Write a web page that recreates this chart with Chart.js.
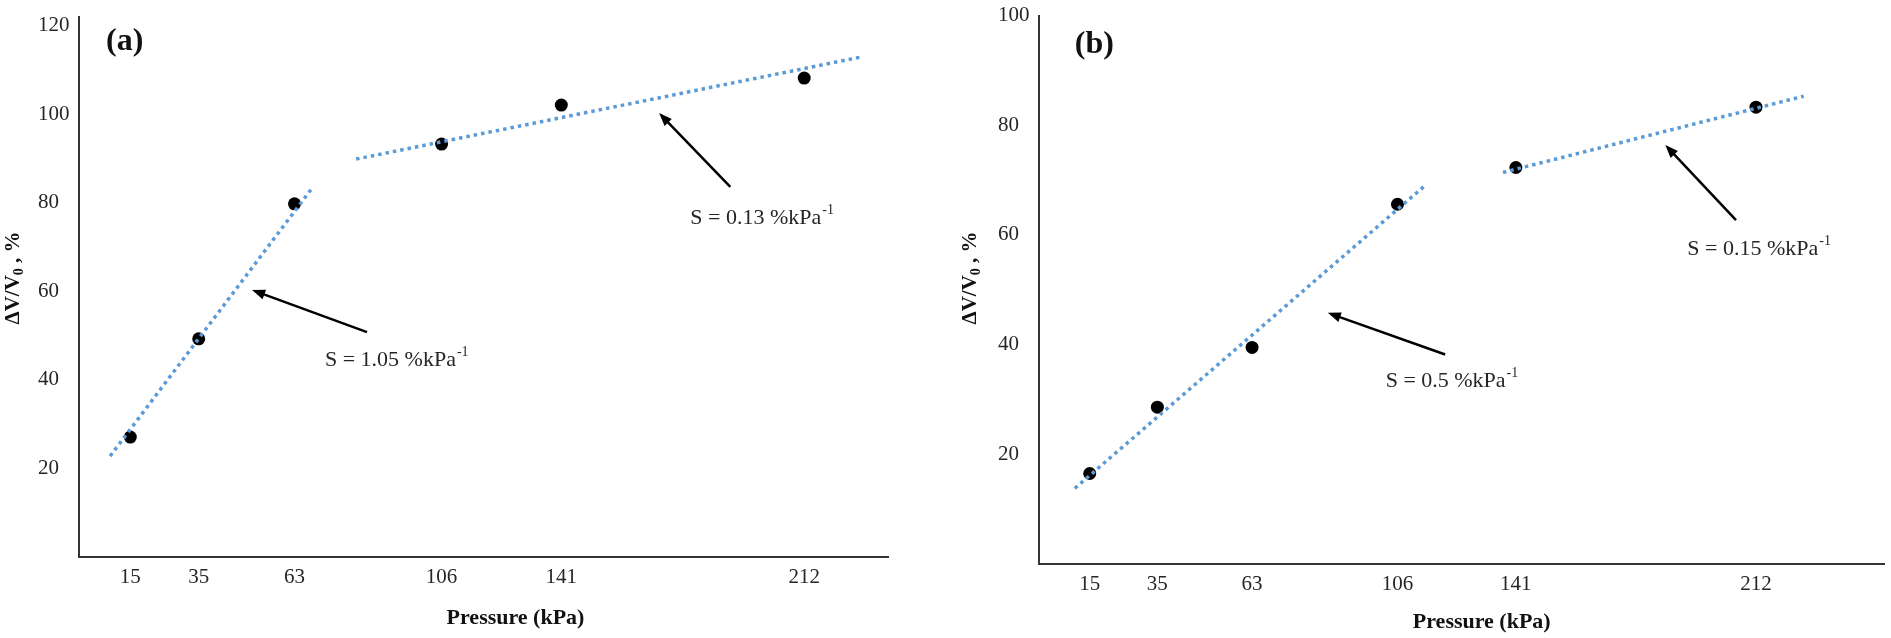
<!DOCTYPE html>
<html>
<head>
<meta charset="utf-8">
<script src="https://cdn.jsdelivr.net/npm/chart.js@4.4.0/dist/chart.umd.min.js"></script>
<style>
  html, body { margin: 0; padding: 0; background: #fff; }
  #wrap { position: relative; width: 1891px; height: 638px; }
  .box { position: absolute; top: 0; height: 638px; }
</style>
</head>
<body>
<div id="wrap">
  <div class="box" style="left:0;width:945px"><canvas id="chartA"></canvas></div>
  <div class="box" style="left:945px;width:946px"><canvas id="chartB"></canvas></div>
</div>
<script>
const pressure = [15, 35, 63, 106, 141, 212];
const volumeA = [27.1, 49.3, 79.8, 93.3, 102.1, 108.2];
const volumeB = [16.5, 28.6, 39.5, 65.6, 72.3, 83.3];
const yTicksA = [20, 40, 60, 80, 100, 120];
const yTicksB = [20, 40, 60, 80, 100];

// dotted fit lines: [x0, y0, x1, y1]
const fitA1 = [9.1, 22.8, 68.4, 83.6];
const fitA2 = [81.0, 89.9, 228.9, 113.0];
const fitB1 = [10.6, 13.8, 114.5, 69.2];
const fitB2 = [137.2, 71.4, 226.1, 85.3];

// arrows: tail -> head, in data units
const arrowsA = [[84.2, 50.8, 50.6, 60.3], [190.4, 83.6, 169.6, 100.3]];
const arrowsB = [[120.1, 38.2, 85.4, 45.8], [206.1, 62.7, 185.2, 76.4]];

// slope labels: [x, y, text]
const notesA = [[71.9, 44.5, 'S = 1.05 %kPa'], [178.7, 76.6, 'S = 0.13 %kPa']];
const notesB = [[102.5, 33.3, 'S = 0.5 %kPa'], [191.7, 57.4, 'S = 0.15 %kPa']];

const SERIF = "'Liberation Serif', 'Times New Roman', serif";
const INK = '#262626';
const BLUE = '#5b9bd5';

function fitLine(f) {
  return {
    type: 'line',
    data: [{ x: f[0], y: f[1] }, { x: f[2], y: f[3] }],
    borderColor: BLUE,
    borderWidth: 3.5,
    borderDash: [3.5, 4],
    borderCapStyle: 'butt',
    pointRadius: 0,
    fill: false,
    order: 0
  };
}

function drawArrow(ctx, x0, y0, x1, y1) {
  const ang = Math.atan2(y1 - y0, x1 - x0);
  const len = 13, half = 5;
  ctx.strokeStyle = '#000';
  ctx.fillStyle = '#000';
  ctx.lineWidth = 2.5;
  ctx.beginPath();
  ctx.moveTo(x0, y0);
  ctx.lineTo(x1 - Math.cos(ang) * len * 0.8, y1 - Math.sin(ang) * len * 0.8);
  ctx.stroke();
  ctx.beginPath();
  ctx.moveTo(x1, y1);
  ctx.lineTo(x1 - Math.cos(ang) * len + Math.sin(ang) * half, y1 - Math.sin(ang) * len - Math.cos(ang) * half);
  ctx.lineTo(x1 - Math.cos(ang) * len - Math.sin(ang) * half, y1 - Math.sin(ang) * len + Math.cos(ang) * half);
  ctx.closePath();
  ctx.fill();
}

const extras = {
  id: 'extras',
  afterDatasetsDraw(chart) {
    const o = chart.options.plugins.extras;
    const { ctx, chartArea } = chart;
    const xs = chart.scales.x, ys = chart.scales.y;
    ctx.save();

    o.arrows.forEach(a => {
      drawArrow(ctx, xs.getPixelForValue(a[0]), ys.getPixelForValue(a[1]),
                xs.getPixelForValue(a[2]), ys.getPixelForValue(a[3]));
    });

    // slope labels with superscript -1
    ctx.fillStyle = INK;
    ctx.textBaseline = 'middle';
    ctx.textAlign = 'left';
    o.notes.forEach(n => {
      const x = xs.getPixelForValue(n[0]), y = ys.getPixelForValue(n[1]);
      ctx.font = '22px ' + SERIF;
      ctx.fillText(n[2], x, y);
      const w = ctx.measureText(n[2]).width;
      ctx.font = '14px ' + SERIF;
      ctx.fillText('-1', x + w + 1, y - 8);
    });

    // panel letter
    ctx.font = 'bold 32px ' + SERIF;
    ctx.fillStyle = '#111';
    ctx.fillText(o.letter[2], xs.getPixelForValue(o.letter[0]), ys.getPixelForValue(o.letter[1]));

    // x axis title
    ctx.font = 'bold 22px ' + SERIF;
    ctx.textAlign = 'center';
    ctx.fillText('Pressure (kPa)', (chartArea.left + chartArea.right) / 2 + o.xTitleShift, chartArea.bottom + o.xTitleGap);

    // y axis title, rotated, with subscript 0
    ctx.translate(o.yTitleX, o.yTitleY);
    ctx.rotate(-Math.PI / 2);
    ctx.textAlign = 'left';
    ctx.font = 'bold 21px ' + SERIF;
    const p1 = '\u0394V/V', p2 = '0', p3 = ' , %';
    const w1 = ctx.measureText(p1).width;
    const w3 = ctx.measureText(p3).width;
    ctx.font = 'bold 14px ' + SERIF;
    const w2 = ctx.measureText(p2).width;
    let cx = -(w1 + w2 + w3) / 2;
    ctx.font = 'bold 21px ' + SERIF;
    ctx.fillText(p1, cx, 0);
    ctx.font = 'bold 14px ' + SERIF;
    ctx.fillText(p2, cx + w1, 5);
    ctx.font = 'bold 21px ' + SERIF;
    ctx.fillText(p3, cx + w1 + w2, 0);
    ctx.restore();
  }
};

function makeChart(id, cfg) {
  return new Chart(document.getElementById(id), {
    type: 'scatter',
    data: {
      datasets: [
        fitLine(cfg.fit1),
        fitLine(cfg.fit2),
        {
          data: pressure.map((p, i) => ({ x: p, y: cfg.values[i] })),
          pointRadius: 6.5,
          pointBackgroundColor: '#000',
          pointBorderWidth: 0,
          showLine: false,
          order: 1
        }
      ]
    },
    options: {
      responsive: true,
      maintainAspectRatio: false,
      animation: false,
      events: [],
      layout: { padding: cfg.padding },
      scales: {
        x: {
          type: 'linear',
          min: 0,
          max: cfg.xMax,
          afterFit: s => { s.height = cfg.xHeight; },
          afterBuildTicks: s => { s.ticks = pressure.map(v => ({ value: v })); },
          grid: { display: false, drawTicks: false },
          border: { display: true, color: '#333', width: 2 },
          ticks: { padding: 8, color: INK, font: { family: SERIF, size: 21 } }
        },
        y: {
          min: 0,
          max: cfg.yMax,
          afterFit: s => { s.width = 41; },
          afterBuildTicks: s => { s.ticks = cfg.yTicks.map(v => ({ value: v })); },
          grid: { display: false, drawTicks: false },
          border: { display: true, color: '#333', width: 2 },
          ticks: { crossAlign: 'far', color: INK, font: { family: SERIF, size: 21 } }
        }
      },
      plugins: {
        legend: { display: false },
        tooltip: { enabled: false },
        extras: cfg.extras
      }
    },
    plugins: [extras]
  });
}

makeChart('chartA', {
  values: volumeA, fit1: fitA1, fit2: fitA2, yTicks: yTicksA,
  xMax: 236.5, yMax: 122, xHeight: 81,
  padding: { left: 38, right: 57, top: 17, bottom: 0 },
  extras: {
    arrows: arrowsA, notes: notesA, letter: [7.9, 116.4, '(a)'],
    xTitleShift: 32, xTitleGap: 61, yTitleX: 14, yTitleY: 278
  }
});

makeChart('chartB', {
  values: volumeB, fit1: fitB1, fit2: fitB2, yTicks: yTicksB,
  xMax: 250, yMax: 100, xHeight: 74,
  padding: { left: 53, right: 3, top: 12, bottom: 0 },
  extras: {
    arrows: arrowsB, notes: notesB, letter: [10.6, 94.6, '(b)'],
    xTitleShift: 20, xTitleGap: 58, yTitleX: 26, yTitleY: 278
  }
});
</script>
</body>
</html>
